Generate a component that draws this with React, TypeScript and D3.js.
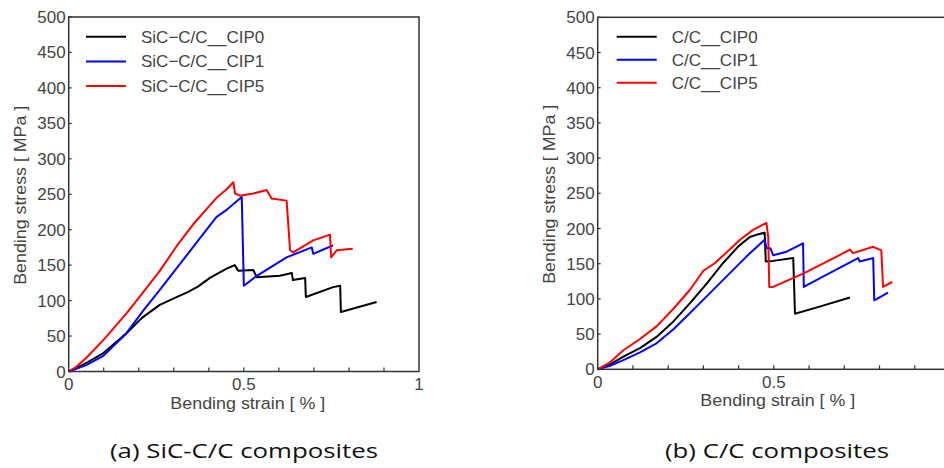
import React from 'react'
import * as d3 from 'd3'

// [strain %, stress MPa]
const sicCip0 = [[0,0],[0.03,7],[0.05,12],[0.099,26],[0.165,54],[0.21,76],[0.26,94],[0.308,105],[0.34,112],[0.37,120],[0.403,132],[0.451,145],[0.474,150],[0.484,142],[0.527,143],[0.537,133],[0.603,135],[0.637,139],[0.64,129],[0.675,132],[0.677,105],[0.755,119],[0.775,121],[0.777,84],[0.879,98]]
const sicCip1 = [[0,0],[0.05,9],[0.099,22],[0.165,54],[0.21,84],[0.26,115],[0.356,176],[0.422,218],[0.451,228],[0.494,246],[0.5,121],[0.537,135],[0.622,161],[0.694,175],[0.698,166],[0.722,171],[0.755,178]]
const sicCip5 = [[0,0],[0.02,6],[0.05,19],[0.1,45],[0.165,82],[0.2,104],[0.26,142],[0.307,176],[0.356,208],[0.422,245],[0.451,257],[0.47,267],[0.475,251],[0.489,248],[0.527,251],[0.565,256],[0.579,244],[0.622,241],[0.632,171],[0.641,168],[0.698,185],[0.746,193],[0.749,161],[0.765,171],[0.811,173]]

const ccCip0 = [[0,0],[0.035,7],[0.073,18],[0.12,30],[0.167,46],[0.215,68],[0.262,94],[0.31,122],[0.356,151],[0.4,175],[0.432,188],[0.45,191],[0.474,194],[0.477,153],[0.498,154],[0.555,158],[0.557,127],[0.56,79],[0.63,89],[0.716,102]]
const ccCip1 = [[0,0],[0.035,5],[0.073,13],[0.12,24],[0.167,37],[0.215,57],[0.262,80],[0.31,104],[0.356,127],[0.4,149],[0.432,165],[0.474,184],[0.479,172],[0.49,172],[0.498,162],[0.536,167],[0.583,179],[0.585,117],[0.63,129],[0.739,158],[0.744,153],[0.782,158],[0.785,98],[0.824,109]]
const ccCip5 = [[0,0],[0.035,10],[0.073,27],[0.12,43],[0.167,61],[0.215,86],[0.262,113],[0.3,140],[0.333,151],[0.37,168],[0.404,184],[0.441,198],[0.479,208],[0.484,188],[0.487,117],[0.498,117],[0.583,136],[0.678,160],[0.716,170],[0.725,165],[0.782,174],[0.805,169],[0.81,117],[0.836,124]]

const sicNames = ['SiC\u2212C/C__CIP0', 'SiC\u2212C/C__CIP1', 'SiC\u2212C/C__CIP5']
const ccNames = ['C/C__CIP0', 'C/C__CIP1', 'C/C__CIP5']
const colours = ['#000000', '#0000ff', '#ff0000']
const yTicks = [0, 50, 100, 150, 200, 250, 300, 350, 400, 450, 500]
const xMinor = [0.1, 0.2, 0.3, 0.4, 0.5, 0.6, 0.7, 0.8, 0.9]
const xLabels = [0, 0.5, 1]

const tickFont = 'Liberation Sans, Arial, sans-serif'
const axisColour = '#333'
const textColour = '#444'

function Panel({ x0, x1, y0, y1, series, names, legendX, legendY, legendGap }) {
  const x = d3.scaleLinear().domain([0, 1]).range([x0, x1])
  const y = d3.scaleLinear().domain([0, 500]).range([y0, y1])
  const line = d3.line().x(d => x(d[0])).y(d => y(d[1]))

  return (
    <g>
      {series.map((s, i) => (
        <path key={`s${i}`} d={line(s)} fill="none" stroke={colours[i]} strokeWidth={2} strokeLinejoin="round" />
      ))}
      <rect x={x(0)} y={y(500)} width={x(1) - x(0)} height={y(0) - y(500)} fill="none" stroke={axisColour} strokeWidth={1.5} />
      {yTicks.map(t => (
        <g key={`y${t}`}>
          <line x1={x(0)} x2={x(0) + 3} y1={y(t)} y2={y(t)} stroke={axisColour} strokeWidth={1.2} />
          <text x={x(0) - 3} y={y(t) + 6} textAnchor="end" fontFamily={tickFont} fontSize={17} fill={textColour}>{t}</text>
        </g>
      ))}
      {xMinor.map(t => (
        <line key={`xm${t}`} x1={x(t)} x2={x(t)} y1={y(0)} y2={y(0) - 4} stroke={axisColour} strokeWidth={1.2} />
      ))}
      {xLabels.filter(t => x(t) < 935).map(t => (
        <text key={`xl${t}`} x={x(t)} y={y(0) + 18.5} textAnchor="middle" fontFamily={tickFont} fontSize={17} fill={textColour}>{t}</text>
      ))}
      <text x={(x(0) + x(1)) / 2 + 4} y={y(0) + 37} textAnchor="middle" fontFamily={tickFont} fontSize={17} fill={textColour}
        textLength={155} lengthAdjust="spacingAndGlyphs">Bending strain [ % ]</text>
      <text transform={`translate(${x(0) - 43},${(y(0) + y(500)) / 2 + 1}) rotate(-90)`} textAnchor="middle" fontFamily={tickFont} fontSize={17} fill={textColour}
        textLength={179} lengthAdjust="spacingAndGlyphs">Bending stress [ MPa ]</text>
      {names.map((n, i) => (
        <g key={`l${i}`}>
          <line x1={legendX} x2={legendX + 40} y1={legendY + i * legendGap} y2={legendY + i * legendGap} stroke={colours[i]} strokeWidth={2} />
          <text x={legendX + 55} y={legendY + i * legendGap + 6} fontFamily={tickFont} fontSize={17} fill={textColour}>{n}</text>
        </g>
      ))}
    </g>
  )
}

export default function App() {
  return (
    <svg width={944} height={468} style={{ position: 'absolute', left: 0, top: 0, background: '#fff' }}>
      <rect width={944} height={468} fill="#fff" />
      <Panel x0={68.7} x1={419} y0={371.5} y1={17} series={[sicCip0, sicCip1, sicCip5]} names={sicNames}
        legendX={86} legendY={36.7} legendGap={24.7} />
      <Panel x0={597.7} x1={950} y0={369.3} y1={17.3} series={[ccCip0, ccCip1, ccCip5]} names={ccNames}
        legendX={616.7} legendY={36.7} legendGap={23} />
      <text x={244} y={458} textAnchor="middle" fontFamily="Open Sans, sans-serif" fontSize={20} fill="#111"
        textLength={268} lengthAdjust="spacingAndGlyphs">(a) SiC-C/C composites</text>
      <text x={777} y={458} textAnchor="middle" fontFamily="Open Sans, sans-serif" fontSize={20} fill="#111"
        textLength={224} lengthAdjust="spacingAndGlyphs">(b) C/C composites</text>
    </svg>
  )
}
